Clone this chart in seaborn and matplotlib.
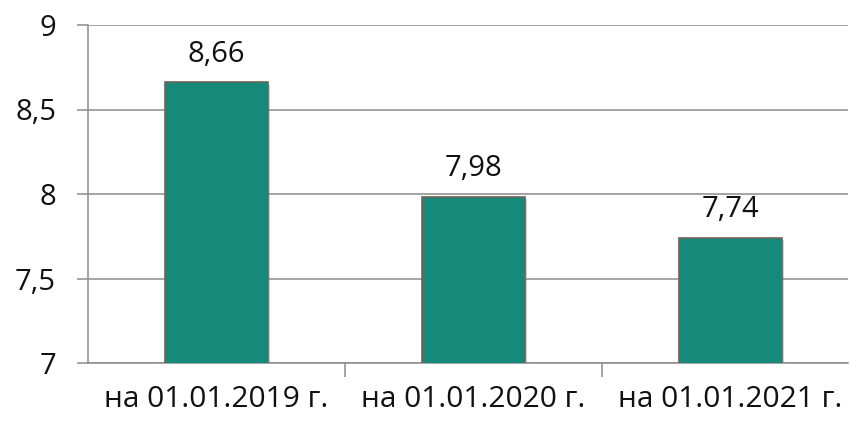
import matplotlib
matplotlib.use("Agg")
import matplotlib.pyplot as plt
import matplotlib.patheffects as pe
import pandas as pd
import seaborn as sns

# Данные
dates = ["на 01.01.2019 г.", "на 01.01.2020 г.", "на 01.01.2021 г."]
values = [8.66, 7.98, 7.74]
value_labels = ["8,66", "7,98", "7,74"]
y_ticks = [7, 7.5, 8, 8.5, 9]
y_tick_labels = ["7", "7,5", "8", "8,5", "9"]

df = pd.DataFrame({"date": dates, "value": values})

sns.set_theme(style="white")
plt.rcParams["font.family"] = ["Open Sans", "DejaVu Sans"]

fig = plt.figure(figsize=(8.51, 4.21), dpi=100)
ax = fig.add_axes([88 / 851, 1 - 363 / 421, (848 - 88) / 851, (363 - 25) / 421])

sns.barplot(data=df, x="date", y="value", color="#168a7a", width=0.4,
            edgecolor="#6e6357", linewidth=1.2, saturation=1, ax=ax, zorder=3)

# лёгкая тень у столбиков
for bar in ax.patches:
    bar.set_path_effects([pe.SimplePatchShadow(offset=(1.5, -1.5), shadow_rgbFace="#888888", alpha=0.4),
                          pe.Normal()])

for bar, lab in zip(ax.patches, value_labels):
    ax.annotate(lab, (bar.get_x() + bar.get_width() / 2, bar.get_height()),
                xytext=(0, 10), textcoords="offset points", ha="center", va="bottom",
                fontsize=21, color="#111111")

ax.set_ylim(7, 9)
ax.set_xlim(-0.5, 2.5 - 11 / 257)
ax.set_yticks(y_ticks)
ax.set_yticklabels(y_tick_labels, fontsize=21, color="#111111")
ax.set_xlabel("")
ax.set_ylabel("")
ax.tick_params(axis="x", labelsize=21.5, labelcolor="#111111", length=0, pad=16)
ax.tick_params(axis="y", length=8, width=1.1, color="#8c8c8c", direction="out", pad=15, left=True)
ax.set_xticks([0.5, 1.5], minor=True)
ax.tick_params(axis="x", which="minor", length=10, width=1.1, color="#8c8c8c", bottom=True)

ax.yaxis.grid(True, color="#8c8c8c", linewidth=1.1, zorder=0)
ax.set_axisbelow(True)
for s in ["top", "right"]:
    ax.spines[s].set_visible(False)
for s in ["left", "bottom"]:
    ax.spines[s].set_color("#8c8c8c")
    ax.spines[s].set_linewidth(1.1)

fig.savefig("out.png", dpi=100)
